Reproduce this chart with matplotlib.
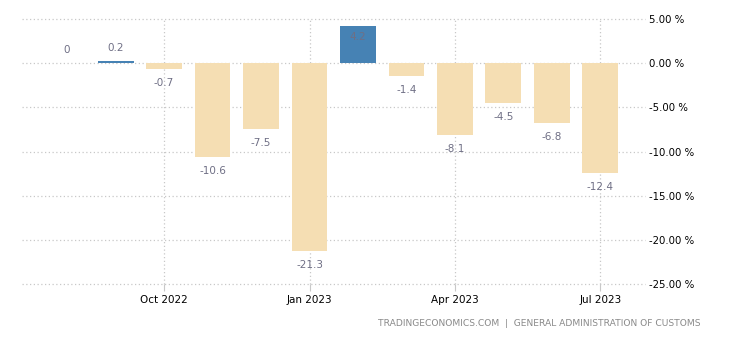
import matplotlib
matplotlib.use("Agg")
import matplotlib.pyplot as plt

months = ["Aug 2022", "Sep 2022", "Oct 2022", "Nov 2022", "Dec 2022", "Jan 2023",
          "Feb 2023", "Mar 2023", "Apr 2023", "May 2023", "Jun 2023", "Jul 2023"]
values = [0, 0.2, -0.7, -10.6, -7.5, -21.3, 4.2, -1.4, -8.1, -4.5, -6.8, -12.4]
value_labels = ["0", "0.2", "-0.7", "-10.6", "-7.5", "-21.3", "4.2", "-1.4", "-8.1", "-4.5", "-6.8", "-12.4"]
tick_months = ["Oct 2022", "Jan 2023", "Apr 2023", "Jul 2023"]
yticks = [5, 0, -5, -10, -15, -20, -25]

POS = "#4682B4"
NEG = "#F5DEB3"
LABEL = "#6f6f85"
GRID = "#c8c8c8"

fig = plt.figure(figsize=(7.3, 3.4), dpi=100)
ax = fig.add_axes([22 / 730, 1 - 284 / 340, (645 - 22) / 730, (284 - 19) / 340])
ax.set_axisbelow(True)

x = list(range(len(months)))
colors = [POS if v >= 0 else NEG for v in values]
ax.bar(x, values, width=0.74, color=colors, zorder=2)

ax.set_xlim(-0.93, 11.92)
ax.set_ylim(-25, 5)

for xi, v, lab in zip(x, values, value_labels):
    if v >= 0:
        off = 13 if v + 2 < 5 else -11
    else:
        off = -14
    ax.annotate(lab, (xi, v), xytext=(0, off), textcoords="offset pixels",
                ha="center", va="center", fontsize=7.5, color=LABEL, zorder=3)

ax.set_xticks([months.index(m) for m in tick_months])
ax.set_xticklabels(tick_months)
ax.set_yticks(yticks)
ax.set_yticklabels(["%.2f %%" % t for t in yticks])
ax.yaxis.tick_right()

for s in ax.spines.values():
    s.set_visible(False)

ax.grid(True, axis="both", linestyle=(0, (1, 2)), color=GRID, linewidth=0.9)
for gl in ax.get_ygridlines() + ax.get_xgridlines():
    gl.set_clip_on(False)
ax.tick_params(axis="y", length=0, pad=3, labelsize=7.3, colors="black")
ax.tick_params(axis="x", length=5, color=GRID, pad=3, labelsize=7.5, labelcolor="black")

fig.text(700 / 730, 1 - 324 / 340, "TRADINGECONOMICS.COM  |  GENERAL ADMINISTRATION OF CUSTOMS",
         ha="right", va="center", fontsize=6.6, color="#8a8a8a")

fig.savefig("out.png", dpi=100)
